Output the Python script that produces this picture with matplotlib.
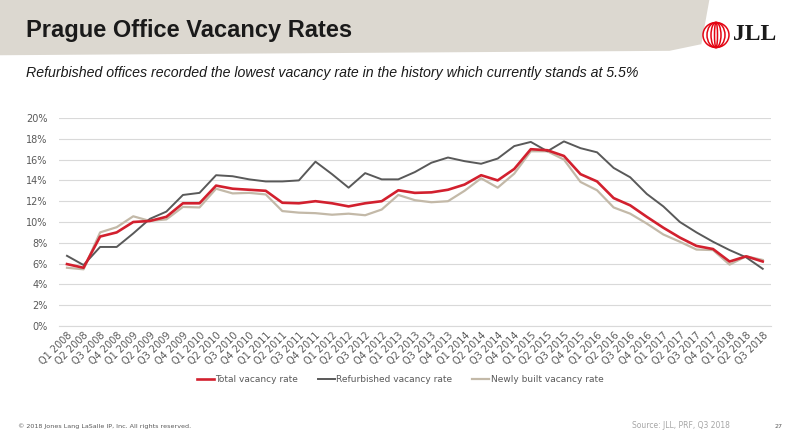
"""Prague office vacancy rates, Q1 2008 - Q3 2018."""
import matplotlib
matplotlib.use("Agg")
import matplotlib.pyplot as plt
from matplotlib.patches import Ellipse, Polygon
from matplotlib.ticker import PercentFormatter

# quarters Q1 2008 .. Q3 2018
quarters = [f"Q{q} {y}" for y in range(2008, 2019) for q in range(1, 5)][:43]

total = [5.95, 5.6, 8.6, 9.0, 10.0, 10.1, 10.5, 11.8, 11.8, 13.5,
         13.2, 13.1, 13.0, 11.85, 11.8, 12.0, 11.8, 11.5, 11.8, 12.0,
         13.05, 12.8, 12.85, 13.1, 13.6, 14.5, 14.0, 15.1, 17.0, 16.9,
         16.35, 14.6, 13.9, 12.3, 11.6, 10.5, 9.45, 8.5, 7.7, 7.4,
         6.2, 6.7, 6.2]
refurbished = [6.75, 5.86, 7.6, 7.6, 8.9, 10.3, 11.0, 12.6, 12.8, 14.5,
               14.4, 14.1, 13.9, 13.9, 14.0, 15.8, 14.6, 13.3, 14.7, 14.1,
               14.1, 14.8, 15.7, 16.2, 15.85, 15.6, 16.1, 17.3, 17.7, 16.8,
               17.75, 17.1, 16.7, 15.2, 14.3, 12.7, 11.5, 10.0, 9.0, 8.1,
               7.3, 6.6, 5.5]
newly_built = [5.6, 5.45, 9.0, 9.5, 10.55, 10.1, 10.25, 11.45, 11.4, 13.2,
               12.75, 12.8, 12.65, 11.05, 10.9, 10.85, 10.7, 10.8, 10.65, 11.2,
               12.6, 12.1, 11.9, 12.0, 13.0, 14.2, 13.3, 14.65, 16.8, 16.8,
               16.0, 13.85, 13.05, 11.4, 10.8, 9.85, 8.8, 8.1, 7.35, 7.3,
               5.9, 6.7, 6.35]

RED = "#d2202e"
GREY = "#595959"
TAN = "#c3b9a8"

fig = plt.figure(figsize=(7.97, 4.42), dpi=100)

# header band
band = Polygon([[0, 1], [0.89, 1], [0.88, 0.90], [0.84, 0.885], [0, 0.875]],
               closed=True, transform=fig.transFigure, facecolor="#dcd8d0",
               edgecolor="none", zorder=0)
fig.patches.append(band)

fig.text(26 / 797, 1 - 31 / 442, "Prague Office Vacancy Rates",
         family=["Liberation Sans Narrow", "Liberation Sans", "DejaVu Sans"],
         fontsize=17, fontweight="bold", color="#1a1a1a", va="center")
fig.text(26 / 797, 1 - 73 / 442,
         "Refurbished offices recorded the lowest vacancy rate in the history "
         "which currently stands at 5.5%",
         family=["Liberation Sans", "DejaVu Sans"], fontsize=10.2,
         style="italic", color="#1a1a1a", va="center")

# JLL logo
for w in [26, 18, 10, 3]:
    fig.patches.append(Ellipse((716 / 797, 1 - 35 / 442), w / 797, 25 / 442,
                               transform=fig.transFigure, facecolor="none",
                               edgecolor="#e30613", linewidth=1.1))
fig.text(733 / 797, 1 - 35 / 442, "JLL", family=["Liberation Serif", "DejaVu Serif"],
         fontsize=17, fontweight="bold", color="#1a1a1a", va="center")

ax = fig.add_axes([58.7 / 797, 1 - 326 / 442, 712.3 / 797, 208 / 442])
x = range(len(quarters))
ax.plot(x, total, color=RED, linewidth=1.9, label="Total vacancy rate", zorder=4)
ax.plot(x, refurbished, color=GREY, linewidth=1.4, label="Refurbished vacancy rate", zorder=3)
ax.plot(x, newly_built, color=TAN, linewidth=1.6, label="Newly built vacancy rate", zorder=2)

ax.set_xlim(-0.5, len(quarters) - 0.5)
ax.set_ylim(0, 20)
ax.set_yticks(range(0, 21, 2))
ax.yaxis.set_major_formatter(PercentFormatter(decimals=0))
ax.set_xticks(list(x))
ax.set_xticklabels(quarters, rotation=45, ha="right", rotation_mode="anchor")
ax.tick_params(axis="both", length=0, labelsize=7, labelcolor="#595959")
ax.tick_params(axis="y", pad=8)
ax.tick_params(axis="x", pad=3)
ax.grid(axis="y", color="#d9d9d9", linewidth=0.8)
ax.set_axisbelow(True)
for s in ["top", "right", "left"]:
    ax.spines[s].set_visible(False)
ax.spines["bottom"].set_color("#d9d9d9")
ax.spines["bottom"].set_linewidth(0.8)

fig.legend(loc="center", bbox_to_anchor=(400 / 797, 1 - 380 / 442), ncol=3,
           frameon=False, fontsize=6.5, handlelength=1.9, handletextpad=0.15,
           columnspacing=2.2, labelcolor="#595959")

fig.text(18 / 797, 1 - 426 / 442, "© 2018 Jones Lang LaSalle IP, Inc. All rights reserved.",
         fontsize=4.6, color="#595959", va="center")
fig.text(632 / 797, 1 - 425 / 442, "Source: JLL, PRF, Q3 2018",
         fontsize=5.5, color="#a6a6a6", va="center")
fig.text(775 / 797, 1 - 426 / 442, "27", fontsize=4.6, color="#595959", va="center")

fig.savefig("out.png", dpi=100)
